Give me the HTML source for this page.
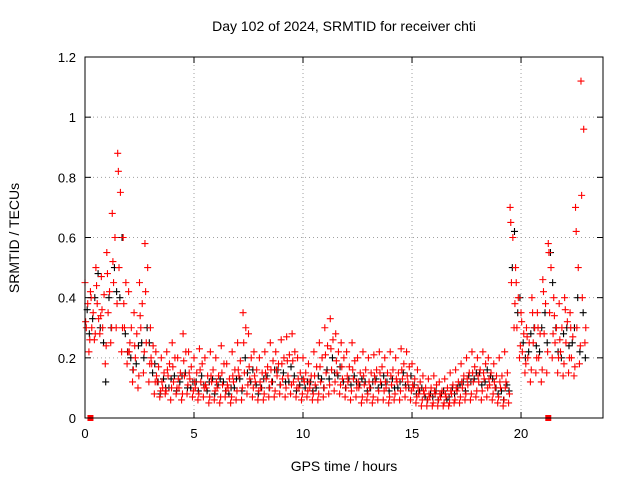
<!DOCTYPE html>
<html><head><meta charset="utf-8"><style>
body{margin:0;background:#fff}
svg{font-family:"Liberation Sans",sans-serif}
</style></head><body>
<svg id="c" width="640" height="480">
<rect width="640" height="480" fill="#fff"/>
<text x="344" y="31" font-size="14" text-anchor="middle">Day 102 of 2024, SRMTID for receiver chti</text>
<text x="344" y="471" font-size="14" text-anchor="middle">GPS time / hours</text>
<text x="19" y="238" font-size="14" text-anchor="middle" transform="rotate(-90 19 238)">SRMTID / TECUs</text>
<g id="grid"></g><g id="marks"></g><g id="axes"></g>
</svg>
<script>
const hours=[0,0.25,0.5,0.75,1,1.25,1.5,1.75,2,2.25,2.5,2.75,3,3.25,3.5,3.75,4,4.25,4.5,4.75,5,5.25,5.5,5.75,6,6.25,6.5,6.75,7,7.25,7.5,7.75,8,8.25,8.5,8.75,9,9.25,9.5,9.75,10,10.25,10.5,10.75,11,11.25,11.5,11.75,12,12.25,12.5,12.75,13,13.25,13.5,13.75,14,14.25,14.5,14.75,15,15.25,15.5,15.75,16,16.25,16.5,16.75,17,17.25,17.5,17.75,18,18.25,18.5,18.75,19,19.25,19.5,19.75,20,20.25,20.5,20.75,21,21.25,21.5,21.75,22,22.25,22.5,22.75];
const red1=[.45,.42,.5,.47,.55,.68,.88,.6,.42,.35,.45,.58,.3,.22,.2,.22,.25,.2,.28,.22,.2,.23,.2,.22,.2,.24,.18,.22,.25,.35,.28,.22,.2,.22,.25,.22,.26,.27,.28,.2,.2,.18,.22,.25,.3,.33,.28,.25,.22,.25,.2,.22,.2,.21,.22,.2,.22,.2,.23,.22,.18,.16,.14,.13,.14,.12,.13,.15,.16,.18,.2,.22,.2,.22,.2,.18,.2,.22,.7,.5,.35,.3,.4,.35,.46,.58,.4,.38,.4,.35,.7,1.12];
const red2=[.3,.3,.38,.3,.35,.45,.5,.3,.25,.2,.3,.25,.18,.12,.1,.14,.12,.1,.14,.13,.1,.12,.1,.12,.1,.11,.1,.12,.14,.15,.13,.12,.1,.13,.12,.14,.13,.14,.12,.1,.12,.1,.11,.12,.15,.16,.15,.13,.12,.13,.1,.11,.1,.12,.12,.1,.11,.12,.13,.12,.1,.08,.08,.07,.08,.07,.07,.08,.09,.1,.11,.12,.12,.13,.11,.1,.1,.12,.45,.3,.22,.2,.25,.2,.28,.35,.25,.22,.25,.2,.3,.4];
const red3=[.22,.26,.28,.18,.25,.3,.22,.18,.12,.1,.15,.12,.08,.07,.08,.06,.08,.06,.08,.07,.06,.07,.05,.06,.05,.07,.05,.06,.06,.08,.07,.06,.06,.07,.07,.08,.07,.08,.07,.06,.07,.06,.06,.07,.08,.09,.08,.07,.06,.07,.05,.06,.05,.06,.06,.05,.06,.06,.07,.06,.05,.04,.04,.04,.04,.04,.04,.05,.05,.06,.06,.07,.06,.07,.06,.05,.04,.05,.3,.2,.15,.12,.15,.12,.15,.2,.15,.14,.15,.14,.18,.25];
const red4=[.38,.35,.33,.41,.42,.6,.75,.45,.3,.28,.38,.5,.24,.17,.15,.18,.2,.15,.22,.17,.15,.18,.14,.16,.14,.18,.13,.16,.19,.3,.2,.16,.15,.17,.19,.18,.2,.21,.22,.15,.15,.14,.17,.2,.24,.26,.22,.2,.17,.19,.15,.16,.15,.16,.17,.15,.16,.15,.18,.17,.13,.12,.1,.1,.11,.09,.1,.11,.12,.14,.15,.17,.16,.18,.15,.14,.14,.15,.6,.4,.28,.25,.3,.28,.38,.5,.3,.3,.32,.27,.5,.96];
const red5=[.32,.4,.44,.36,.48,.52,.82,.38,.22,.24,.34,.42,.2,.14,.12,.16,.17,.13,.19,.15,.12,.16,.11,.14,.12,.15,.11,.14,.16,.25,.17,.14,.12,.15,.16,.16,.18,.19,.19,.13,.13,.12,.14,.17,.21,.23,.19,.17,.14,.16,.12,.14,.12,.14,.15,.12,.14,.13,.16,.14,.11,.1,.09,.08,.09,.08,.08,.09,.1,.12,.13,.15,.14,.15,.13,.12,.12,.1,.65,.45,.32,.27,.35,.3,.42,.55,.34,.26,.36,.3,.62,.74];
const red6=[.26,.28,.34,.24,.3,.38,.3,.22,.16,.14,.22,.18,.12,.09,.09,.1,.1,.08,.11,.09,.08,.1,.07,.09,.07,.09,.07,.09,.1,.11,.1,.09,.08,.1,.09,.11,.1,.11,.1,.08,.09,.08,.08,.1,.11,.12,.11,.1,.09,.1,.07,.08,.07,.09,.09,.07,.08,.09,.1,.09,.07,.06,.06,.05,.06,.05,.05,.06,.07,.08,.08,.09,.09,.1,.08,.07,.06,.08,.38,.24,.18,.16,.2,.16,.22,.28,.2,.18,.2,.17,.24,.3];
const black1=[.36,.33,.48,.25,.4,.5,.4,.28,.2,.18,.25,.3,.15,.12,.13,.1,.14,.12,.15,.1,.12,.14,.09,.13,.11,.12,.08,.1,.13,.2,.12,.11,.1,.14,.12,.16,.15,.12,.14,.11,.1,.12,.1,.13,.16,.2,.14,.12,.13,.14,.11,.12,.1,.13,.11,.12,.13,.1,.15,.1,.11,.09,.07,.08,.09,.08,.06,.1,.1,.12,.14,.13,.15,.12,.14,.1,.09,.11,.5,.35,.25,.22,.3,.22,.35,.55,.3,.2,.3,.25,.4,.35];
const black2=[.28,.4,.3,.12,.3,.42,.6,.22,.16,.24,.2,.25,.18,.08,.1,.13,.09,.14,.1,.12,.09,.11,.12,.08,.13,.09,.1,.13,.09,.15,.16,.08,.13,.1,.16,.11,.12,.17,.09,.13,.12,.09,.14,.1,.13,.15,.17,.1,.11,.12,.13,.09,.12,.1,.14,.09,.1,.12,.11,.14,.08,.1,.06,.07,.06,.09,.07,.08,.11,.09,.12,.15,.11,.16,.13,.08,.06,.09,.62,.4,.2,.28,.24,.3,.25,.45,.22,.28,.24,.3,.22,.2];
const xTicks=[0,5,10,15,20];
const yTicks=[0,0.2,0.4,0.6,0.8,1,1.2];
const yLabels=["0","0.2","0.4","0.6","0.8","1","1.2"];
const L=85,R=603,T=57,B=418,XMAX=23.76,YMAX=1.2;
const X=v=>L+(v/XMAX)*(R-L), Y=v=>B-(v/YMAX)*(B-T);
const NS="http://www.w3.org/2000/svg";
function mk(tag,attrs,parent){const e=document.createElementNS(NS,tag);for(const k in attrs)e.setAttribute(k,attrs[k]);parent.appendChild(e);return e;}
const grid=document.getElementById('grid'),axes=document.getElementById('axes'),marks=document.getElementById('marks');
xTicks.forEach(t=>{
 const x=X(t);
 if(t>0){const g=mk('line',{x1:x,x2:x,y1:T,y2:B,stroke:'#a0a0a0','stroke-dasharray':'1,3'},grid);
 
 }
 mk('line',{x1:x,x2:x,y1:B,y2:B-6,stroke:'#000'},axes);
 mk('line',{x1:x,x2:x,y1:T,y2:T+6,stroke:'#000'},axes);
 const tx=mk('text',{x:x,y:B+20,'font-size':13,'text-anchor':'middle'},axes);tx.textContent=t;
 
 
});
yTicks.forEach((t,i)=>{
 const y=Y(t);
 if(t>0&&t<YMAX){const g=mk('line',{x1:L,x2:R,y1:y,y2:y,stroke:'#a0a0a0','stroke-dasharray':'1,3'},grid);
 
 }
 mk('line',{x1:L,x2:L+6,y1:y,y2:y,stroke:'#000'},axes);
 mk('line',{x1:R,x2:R-6,y1:y,y2:y,stroke:'#000'},axes);
 const tx=mk('text',{x:L-9,y:y+5,'font-size':13,'text-anchor':'end'},axes);tx.textContent=yLabels[i];
 
 
});
const fr=mk('rect',{x:L,y:T,width:R-L,height:B-T,fill:'none',stroke:'#000'},axes);


function plus(h,v,col,name){
 const x=X(h),y=Y(v);
 const p=mk('path',{d:`M${x-3.5},${y}h7M${x},${y-3.5}v7`,stroke:col,'stroke-width':1.1},marks);
 
 
}
hours.forEach((h,i)=>{plus(h+0.1,black1[i],'#000','black-point');plus(h+0.2,black2[i],'#000','black-point');});
hours.forEach((h,i)=>{
 plus(h,red1[i],'#f00','red-point');
 plus(h+0.06,red2[i],'#f00','red-point');
 plus(h+0.18,red3[i],'#f00','red-point');
 plus(h+0.125,red4[i],'#f00','red-point');
 plus(h+0.03,red5[i],'#f00','red-point');
 plus(h+0.22,red6[i],'#f00','red-point');
});
const gapHours=[0.25,21.25];
gapHours.forEach(h=>{const r=mk('rect',{x:X(h)-3,y:B-3,width:6,height:6,fill:'#f00'},marks);
 
 });
</script>
</body></html>
